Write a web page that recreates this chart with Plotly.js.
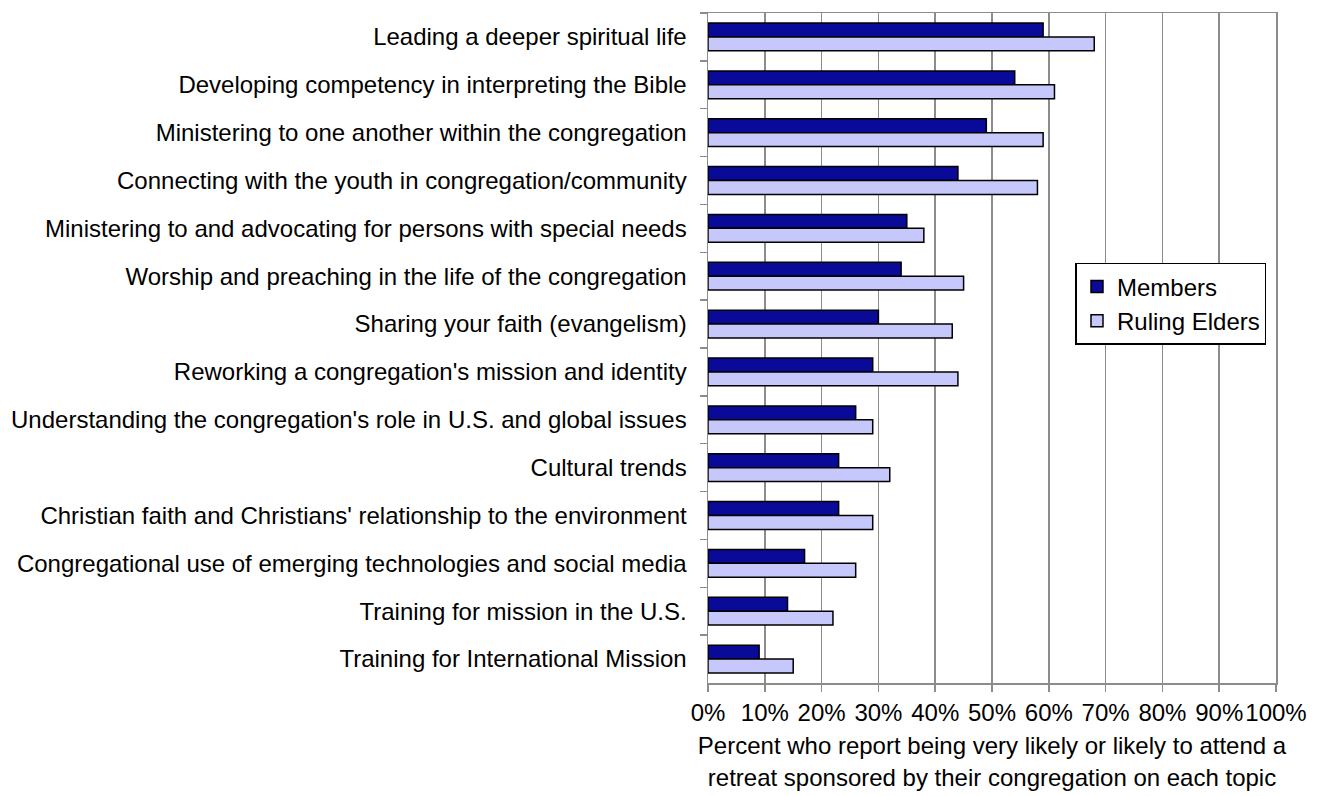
<!DOCTYPE html>
<html>
<head>
<meta charset="utf-8">
<script src="https://cdn.plot.ly/plotly-3.0.1.min.js"></script>
<style>html,body{margin:0;padding:0;background:#fff;}#chart{width:1319px;height:796px;}</style>
</head>
<body>
<div id="chart"></div>
<script>
var categories = [
  "Leading a deeper spiritual life",
  "Developing competency in interpreting the Bible",
  "Ministering to one another within the congregation",
  "Connecting with the youth in congregation/community",
  "Ministering to and advocating for persons with special needs",
  "Worship and preaching in the life of the congregation",
  "Sharing your faith (evangelism)",
  "Reworking a congregation's mission and identity",
  "Understanding the congregation's role in U.S. and global issues",
  "Cultural trends",
  "Christian faith and Christians' relationship to the environment",
  "Congregational use of emerging technologies and social media",
  "Training for mission in the U.S.",
  "Training for International Mission"
];
var members = [59, 54, 49, 44, 35, 34, 30, 29, 26, 23, 23, 17, 14, 9];
var rulingElders = [68, 61, 59, 58, 38, 45, 43, 44, 29, 32, 29, 26, 22, 15];
var seriesNames = ["Members", "Ruling Elders"];
var xTitle = "Percent who report being very likely or likely to attend a<br>retreat sponsored by their congregation on each topic";

var traces = [
  {type:'bar', orientation:'h', name:seriesNames[0], y:categories, x:members,
   marker:{color:'#0a0a99', line:{color:'#000', width:1.5}}, hoverinfo:'x+y'},
  {type:'bar', orientation:'h', name:seriesNames[1], y:categories, x:rulingElders,
   marker:{color:'#c6c8fb', line:{color:'#000', width:1.5}}, hoverinfo:'x+y'}
];
var layout = {
  width:1319, height:796,
  margin:{l:708, r:43, t:13, b:113},
  paper_bgcolor:'#fff', plot_bgcolor:'#fff',
  font:{family:'Liberation Sans, Arial, sans-serif', size:24, color:'#000'},
  barmode:'group', bargap:0.42, bargroupgap:0,
  showlegend:true,
  legend:{x:0.647, y:0.627, xanchor:'left', yanchor:'top', bgcolor:'#fff',
          bordercolor:'#000', borderwidth:1.5, font:{size:24},
          itemwidth:30, tracegroupgap:0},
  xaxis:{range:[0,100], dtick:10, tick0:0, ticksuffix:'%', showgrid:true,
         gridcolor:'#8c8c8c', gridwidth:1.5, showline:true, mirror:true, linecolor:'#8c8c8c',
         linewidth:1.5, ticks:'outside', ticklen:7, tickcolor:'#8c8c8c', tickwidth:1.5,
         zeroline:false, fixedrange:true, ticklabelstandoff:1,
         title:{text:xTitle, font:{size:24}, standoff:12}},
  yaxis:{autorange:'reversed', type:'category', showline:true, mirror:true, linecolor:'#8c8c8c',
         linewidth:1.5, ticks:'outside', tickson:'boundaries', ticklen:7,
         tickcolor:'#8c8c8c', tickwidth:1.5, showgrid:false, fixedrange:true,
         ticklabelstandoff:15}
};
Plotly.newPlot('chart', traces, layout, {displayModeBar:false, staticPlot:true});
</script>
</body>
</html>
